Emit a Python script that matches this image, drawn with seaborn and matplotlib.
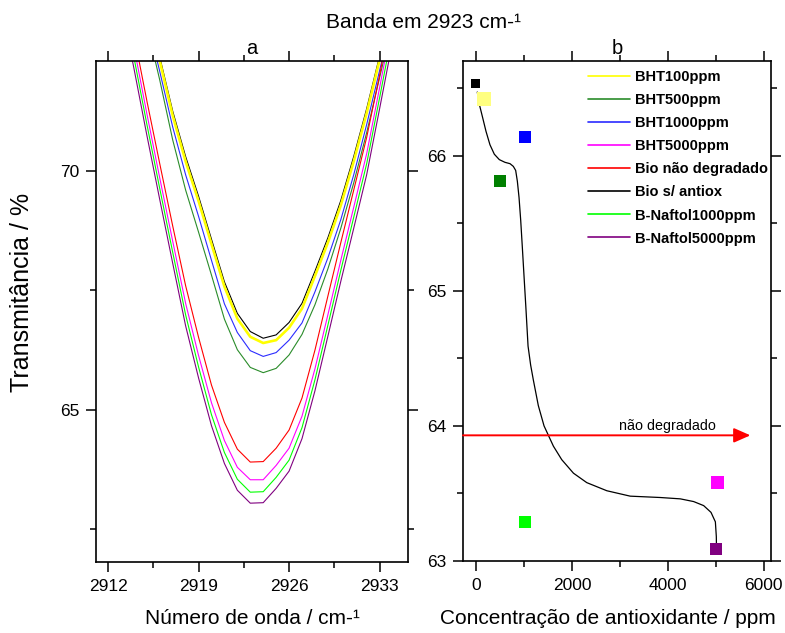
import matplotlib
matplotlib.use("Agg")
import matplotlib.pyplot as plt
from matplotlib.lines import Line2D
from matplotlib.ticker import MultipleLocator, FixedLocator
import seaborn as sns
import pandas as pd

# ---------------- data: panel a (band spectra) ----------------
wavenumber = [2913, 2914, 2915, 2916, 2917, 2918, 2919, 2920, 2921, 2922, 2923, 2924,
              2925, 2926, 2927, 2928, 2929, 2930, 2931, 2932, 2933, 2934, 2935]

bio_s_antiox = [75.7, 74.6, 73.5, 72.38, 71.25, 70.3, 69.47, 68.57, 67.68, 67.02, 66.64, 66.50,
                66.57, 66.83, 67.23, 67.9, 68.6, 69.38, 70.3, 71.3, 72.4, 73.5, 74.6]
bht100 = [75.62, 74.52, 73.42, 72.3, 71.16, 70.2, 69.37, 68.47, 67.58, 66.91, 66.53, 66.40,
          66.46, 66.72, 67.12, 67.8, 68.5, 69.28, 70.2, 71.21, 72.32, 73.42, 74.52]
bht1000 = [75.4, 74.3, 73.2, 72.08, 70.92, 69.92, 69.05, 68.13, 67.22, 66.62, 66.24, 66.12,
           66.20, 66.46, 66.82, 67.47, 68.18, 68.98, 69.92, 70.97, 72.1, 73.22, 74.32]
bht500 = [75.25, 74.15, 73.05, 71.9, 70.65, 69.6, 68.72, 67.82, 66.9, 66.26, 65.89, 65.78,
          65.87, 66.15, 66.58, 67.2, 67.95, 68.8, 69.75, 70.8, 71.95, 73.1, 74.2]
bio_nao_degradado = [74.2, 72.85, 71.47, 70.15, 68.85, 67.6, 66.52, 65.52, 64.74, 64.18, 63.91, 63.92,
                     64.2, 64.58, 65.25, 66.25, 67.38, 68.5, 69.6, 70.7, 72.0, 73.4, 74.8]
bht5000 = [73.95, 72.6, 71.2, 69.85, 68.53, 67.23, 66.14, 65.15, 64.36, 63.8, 63.54, 63.54,
           63.84, 64.2, 64.87, 65.86, 66.99, 68.13, 69.24, 70.36, 71.74, 73.14, 74.55]
naftol1000 = [73.73, 72.38, 70.98, 69.63, 68.3, 66.99, 65.9, 64.9, 64.11, 63.55, 63.28, 63.29,
              63.59, 63.95, 64.63, 65.63, 66.77, 67.92, 69.03, 70.15, 71.53, 72.93, 74.33]
naftol5000 = [73.5, 72.15, 70.75, 69.4, 68.07, 66.76, 65.67, 64.67, 63.88, 63.32, 63.05, 63.06,
              63.36, 63.72, 64.4, 65.4, 66.54, 67.69, 68.8, 69.92, 71.3, 72.7, 74.1]

# ---------------- data: panel b ----------------
point_labels = ["Bio s/ antiox", "BHT100ppm", "BHT500ppm", "BHT1000ppm",
                "B-Naftol1000ppm", "BHT5000ppm", "B-Naftol5000ppm"]
point_conc = [0, 160, 495, 1020, 1020, 5035, 5005]
point_trans = [66.53, 66.42, 65.81, 66.14, 63.29, 63.58, 63.09]

trend_conc = [28, 70, 140, 209, 292, 383, 487, 605, 710, 779, 828, 863, 898, 933, 967,
              1005, 1040, 1086, 1140, 1196, 1300, 1419, 1614, 1788, 2032, 2310, 2728, 3215,
              3841, 4259, 4537, 4746, 4899, 4990, 5010, 5012]
trend_trans = [66.47, 66.38, 66.28, 66.18, 66.08, 66.01, 65.97, 65.95, 65.94, 65.92, 65.89,
               65.81, 65.69, 65.52, 65.32, 65.09, 64.88, 64.59, 64.45, 64.34, 64.15, 64.00,
               63.85, 63.75, 63.65, 63.58, 63.52, 63.48, 63.47, 63.46, 63.44, 63.41, 63.36,
               63.29, 63.18, 63.12]

reference_level = 63.93
reference_label = "não degradado"

legend_order = ["BHT100ppm", "BHT500ppm", "BHT1000ppm", "BHT5000ppm",
                "Bio não degradado", "Bio s/ antiox", "B-Naftol1000ppm", "B-Naftol5000ppm"]

# ---------------- styles ----------------
line_colors = {
    "BHT100ppm": "#FFFF00",
    "BHT500ppm": "#2A8C2A",
    "BHT1000ppm": "#2B2BFF",
    "BHT5000ppm": "#FF00FF",
    "Bio não degradado": "#FF0000",
    "Bio s/ antiox": "#000000",
    "B-Naftol1000ppm": "#00FF00",
    "B-Naftol5000ppm": "#800080",
}
point_colors = {
    "Bio s/ antiox": "#000000",
    "BHT100ppm": "#FFFF80",
    "BHT500ppm": "#008000",
    "BHT1000ppm": "#0000FF",
    "B-Naftol1000ppm": "#00FF00",
    "BHT5000ppm": "#FF00FF",
    "B-Naftol5000ppm": "#800080",
}
point_sizes = {
    "Bio s/ antiox": 42,
    "BHT100ppm": 100,
    "BHT500ppm": 76,
    "BHT1000ppm": 76,
    "B-Naftol1000ppm": 72,
    "BHT5000ppm": 80,
    "B-Naftol5000ppm": 80,
}

sns.set_style("ticks")
plt.rcParams["font.family"] = ["Liberation Sans", "DejaVu Sans"]
plt.rcParams["text.color"] = "black"
plt.rcParams["axes.labelcolor"] = "black"
plt.rcParams["xtick.color"] = "black"
plt.rcParams["ytick.color"] = "black"

fig = plt.figure(figsize=(7.85, 6.33), dpi=100)
ax1 = fig.add_axes([0.1223, 0.1122, 0.3975, 0.7915])
ax2 = fig.add_axes([0.5898, 0.1137, 0.3924, 0.790])

# ---------------- panel a ----------------
series = {
    "Bio s/ antiox": bio_s_antiox,
    "BHT1000ppm": bht1000,
    "BHT500ppm": bht500,
    "Bio não degradado": bio_nao_degradado,
    "BHT5000ppm": bht5000,
    "B-Naftol1000ppm": naftol1000,
    "B-Naftol5000ppm": naftol5000,
    "BHT100ppm": bht100,
}
for name, vals in series.items():
    df = pd.DataFrame({"wn": wavenumber, "T": vals})
    sns.lineplot(data=df, x="wn", y="T", ax=ax1, color=line_colors[name],
                 lw=(1.9 if name == "BHT100ppm" else 0.8), sort=False, estimator=None)
ax1.set_xlim(2911.07, 2935.2)
ax1.set_ylim(61.82, 72.30)
ax1.xaxis.set_major_locator(FixedLocator([2912, 2919, 2926, 2933]))
ax1.xaxis.set_minor_locator(FixedLocator([2915.5, 2922.5, 2929.5]))
ax1.yaxis.set_major_locator(MultipleLocator(5))
ax1.yaxis.set_minor_locator(MultipleLocator(2.5))
ax1.set_xlabel("Número de onda / cm-¹", fontsize=15)
ax1.xaxis.set_label_coords(0.5, -0.094)
ax1.set_ylabel("Transmitância / %", fontsize=18)
ax1.yaxis.set_label_coords(-0.198, 0.537)
ax1.set_title("a", fontsize=14.5, pad=5)

# ---------------- panel b ----------------
pdf = pd.DataFrame({"label": point_labels, "conc": point_conc, "T": point_trans})
tdf = pd.DataFrame({"conc": trend_conc, "T": trend_trans})
sns.lineplot(data=tdf, x="conc", y="T", ax=ax2, color="black", lw=0.9, sort=False, estimator=None)
sns.scatterplot(data=pdf, x="conc", y="T", hue="label", palette=point_colors,
                size="label", sizes=point_sizes, marker="s", edgecolor="none",
                legend=False, ax=ax2, zorder=5, clip_on=False)
ax2.annotate("", xy=(5720, reference_level), xytext=(-270, reference_level),
             arrowprops=dict(arrowstyle="-|>,head_length=0.5,head_width=0.22",
                             color="#FF0000", lw=1.4, mutation_scale=20,
                             shrinkA=0, shrinkB=0))
ax2.text(4000, reference_level + 0.015, reference_label, ha="center", va="bottom", fontsize=10.3)
ax2.set_xlim(-270, 6150)
ax2.set_ylim(63.0, 66.70)
ax2.xaxis.set_major_locator(MultipleLocator(2000))
ax2.xaxis.set_minor_locator(MultipleLocator(1000))
ax2.yaxis.set_major_locator(MultipleLocator(1))
ax2.yaxis.set_minor_locator(MultipleLocator(0.5))
ax2.set_xlabel("Concentração de antioxidante / ppm", fontsize=15)
ax2.xaxis.set_label_coords(0.471, -0.096)
ax2.set_ylabel("")
ax2.set_title("b", fontsize=14.5, pad=5)

handles = [Line2D([0], [0], color=line_colors[n], lw=1.2) for n in legend_order]
ax2.legend(handles, legend_order, loc="upper left", bbox_to_anchor=(0.749, 0.889),
           bbox_transform=fig.transFigure, frameon=False, handlelength=2.9,
           handletextpad=0.3, labelspacing=0.62, borderpad=0, borderaxespad=0,
           prop={"weight": "bold", "size": 10.5})

for ax in (ax1, ax2):
    for sp in ax.spines.values():
        sp.set_visible(True)
        sp.set_linewidth(1.2)
        sp.set_color("black")
    ax.tick_params(which="both", direction="out", top=True, right=True,
                   labeltop=False, labelright=False, width=1.1, colors="black")
    ax.tick_params(which="major", length=7, labelsize=12.5, pad=5)
    ax.tick_params(which="minor", length=4)

fig.text(0.5395, 0.965, "Banda em 2923 cm-¹", ha="center", va="center", fontsize=15)

fig.savefig("out.png", dpi=100)
